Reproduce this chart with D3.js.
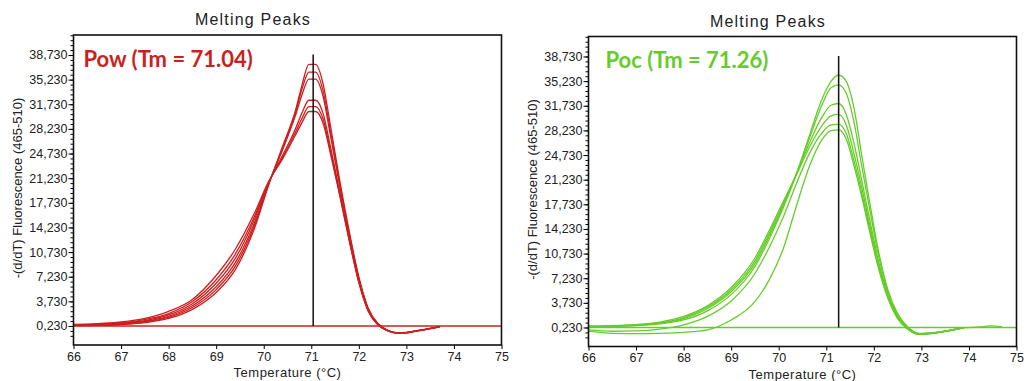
<!DOCTYPE html>
<html>
<head>
<meta charset="utf-8">
<script src="https://cdn.jsdelivr.net/npm/d3@7"></script>
<style>
  body { margin: 0; background: #fff; }
  svg text { font-family: "Liberation Sans", Arial, sans-serif; }
</style>
</head>
<body>
<div id="chart"></div>
<script>
const WIDTH = 1029;
const HEIGHT = 381;

// axis ticks
const xTicks = [66, 67, 68, 69, 70, 71, 72, 73, 74, 75];
const yTicks = [0.23, 3.73, 7.23, 10.73, 14.23, 17.73, 21.23, 24.73, 28.23, 31.73, 35.23, 38.73];

// Pow runs
const powTemps = [66.0, 66.5, 67.0, 67.5, 68.0, 68.5, 69.0, 69.4, 69.8, 70.1, 70.4, 70.67, 70.81, 70.95, 71.09,
  71.25, 71.4, 71.6, 71.8, 72.0, 72.2, 72.4, 72.6, 72.8, 73.0, 73.3, 73.7];
const pow1 = [0.3, 0.32, 0.42, 0.7, 1.3, 2.6, 5.0, 8.2, 14.0, 20.2, 25.8, 30.9, 34.6, 37.4, 37.4,
  34.6, 28.8, 20.8, 13.6, 7.2, 2.7, 0.6, -0.35, -0.72, -0.68, -0.35, 0.15];
const pow2 = [0.32, 0.36, 0.48, 0.8, 1.45, 2.85, 5.4, 8.7, 14.4, 20.3, 25.6, 30.6, 34.0, 36.3, 36.3,
  33.6, 28.0, 20.4, 13.3, 7.0, 2.6, 0.55, -0.38, -0.74, -0.7, -0.36, 0.15];
const pow3 = [0.35, 0.4, 0.55, 0.9, 1.6, 3.1, 5.8, 9.2, 14.8, 20.4, 25.3, 30.2, 33.2, 35.3, 35.3,
  32.8, 27.4, 20.0, 13.0, 6.8, 2.5, 0.5, -0.4, -0.75, -0.7, -0.37, 0.14];
const pow4 = [0.38, 0.45, 0.62, 1.0, 1.8, 3.4, 6.3, 9.8, 15.3, 20.5, 24.5, 28.3, 30.6, 32.3, 32.3,
  30.4, 25.8, 19.2, 12.6, 6.6, 2.4, 0.45, -0.42, -0.76, -0.72, -0.38, 0.13];
const pow5 = [0.4, 0.5, 0.7, 1.15, 2.0, 3.7, 6.8, 10.4, 15.7, 20.6, 24.2, 27.8, 29.8, 31.4, 31.4,
  29.6, 25.2, 18.9, 12.4, 6.5, 2.35, 0.42, -0.43, -0.77, -0.72, -0.38, 0.13];
const pow6 = [0.45, 0.55, 0.8, 1.3, 2.3, 4.0, 7.4, 11.1, 16.2, 20.7, 24.0, 27.4, 29.2, 30.7, 30.7,
  29.0, 24.8, 18.7, 12.3, 6.4, 2.3, 0.4, -0.44, -0.78, -0.73, -0.39, 0.12];

// Poc runs
const pocTemps = [66.0, 66.5, 67.0, 67.5, 68.0, 68.5, 69.0, 69.5, 69.8, 70.1, 70.35, 70.65, 70.9, 71.1, 71.26,
  71.42, 71.58, 71.75, 71.9, 72.1, 72.3, 72.5, 72.7, 72.95, 73.3, 73.9, 74.2, 74.45, 74.7];
const poc1 = [0.3, 0.35, 0.5, 0.75, 1.3, 2.6, 4.9, 8.9, 12.8, 17.3, 21.6, 27.6, 32.5, 35.2, 36.1,
  35.2, 31.5, 24.5, 18.5, 11.0, 5.5, 2.2, 0.4, -0.6, -0.45, 0.2, null, null, null];
const poc2 = [0.35, 0.4, 0.55, 0.85, 1.5, 2.9, 5.3, 9.3, 13.2, 17.6, 21.7, 27.2, 31.7, 34.3, 34.7,
  33.5, 29.5, 23.0, 17.5, 10.4, 5.2, 2.0, 0.3, -0.65, -0.5, 0.2, null, null, null];
const poc3 = [0.4, 0.45, 0.6, 0.9, 1.6, 3.1, 5.6, 9.7, 13.6, 17.9, 21.7, 26.5, 30.0, 31.8, 32.05,
  30.5, 26.5, 21.0, 16.0, 9.6, 4.8, 1.8, 0.2, -0.7, -0.5, 0.2, null, null, null];
const poc4 = [0.45, 0.5, 0.65, 1.0, 1.8, 3.3, 5.9, 10.1, 14.0, 18.2, 21.6, 25.9, 28.8, 30.3, 30.5,
  29.0, 25.0, 20.0, 15.2, 9.2, 4.6, 1.7, 0.15, -0.72, -0.52, 0.2, 0.3, 0.45, 0.3];
const poc5 = [-0.1, -0.3, -0.25, 0.0, 0.6, 1.8, 4.0, 7.9, 11.6, 16.0, 20.3, 25.0, 27.8, 29.0, 29.1,
  27.8, 24.0, 19.2, 14.6, 8.8, 4.4, 1.6, 0.1, -0.73, -0.55, 0.2, null, null, null];
const poc6 = [-0.3, -0.6, -0.65, -0.6, -0.45, -0.1, 1.3, 3.9, 7.0, 11.5, 17.0, 23.2, 26.8, 28.2, 28.3,
  27.0, 23.3, 18.7, 14.2, 8.6, 4.3, 1.5, 0.05, -0.75, -0.55, 0.2, null, null, null];

const BASELINE = 0.23;
const Y_MIN = -2.47;
const Y_MAX = 41.57;

const panels = [
  { label: 'Pow (Tm = 71.04)', tm: 71.04, color: '#cc1f1f', temps: powTemps,
    runs: [pow1, pow2, pow3, pow4, pow5, pow6],
    left: 73.5, right: 501.5, top: 35, bottom: 345, labelDx: 10 },
  { label: 'Poc (Tm = 71.26)', tm: 71.26, color: '#66cc29', temps: pocTemps,
    runs: [poc1, poc2, poc3, poc4, poc5, poc6],
    left: 588.5, right: 1016.5, top: 36.5, bottom: 346.5, labelDx: 17 }
];

const svg = d3.select('#chart')
  .append('svg')
  .attr('width', WIDTH)
  .attr('height', HEIGHT);

const fmtY = (d) => d3.format('.3f')(d).replace('.', ',');

panels.forEach((p) => {
  const xScale = d3.scaleLinear().domain([66, 75]).range([p.left, p.right]);
  const yScale = d3.scaleLinear().domain([Y_MIN, Y_MAX]).range([p.bottom, p.top]);
  const g = svg.append('g');

  // title (centred over the whole panel, not the plot box)
  g.append('text')
    .attr('x', p.left - 34.5 + (p.right - p.left) / 2)
    .attr('y', p.top - 10)
    .attr('text-anchor', 'middle')
    .style('font-size', '16px')
    .style('letter-spacing', '1.2px')
    .style('fill', '#222')
    .text('Melting Peaks');

  // y axis: minor + major ticks
  const minor = d3.range(BASELINE - 2 * 0.7, Y_MAX, 0.7).filter((v) => v > Y_MIN);
  g.append('g')
    .attr('transform', `translate(${p.left},0)`)
    .call(d3.axisLeft(yScale).tickValues(minor).tickFormat('').tickSize(3).tickSizeOuter(0))
    .call((a) => a.select('.domain').remove());
  g.append('g')
    .attr('transform', `translate(${p.left},0)`)
    .call(d3.axisLeft(yScale).tickValues(yTicks).tickFormat(fmtY).tickSize(5).tickSizeOuter(0))
    .call((a) => a.select('.domain').remove())
    .call((a) => a.selectAll('text').style('font-size', '12.5px').style('fill', '#222').attr('x', -6));

  // x axis
  g.append('g')
    .attr('transform', `translate(0,${p.bottom})`)
    .call(d3.axisBottom(xScale).tickValues(xTicks).tickSize(4).tickSizeOuter(0))
    .call((a) => a.select('.domain').remove())
    .call((a) => a.selectAll('text').style('font-size', '12.5px').style('fill', '#222').attr('y', 7));

  // axis labels
  g.append('text')
    .attr('x', (xScale(66) + xScale(75)) / 2)
    .attr('y', p.bottom + 32)
    .attr('text-anchor', 'middle')
    .style('font-size', '13px')
    .style('letter-spacing', '0.5px')
    .style('fill', '#222')
    .text('Temperature (°C)');

  g.append('text')
    .attr('transform', `translate(${p.left - 52},${(p.top + p.bottom) / 2 - 2}) rotate(-90)`)
    .attr('text-anchor', 'middle')
    .style('font-size', '13px')
    .style('fill', '#222')
    .text('-(d/dT) Fluorescence (465-510)');

  // baseline
  g.append('line')
    .attr('x1', xScale(66)).attr('x2', xScale(75))
    .attr('y1', yScale(BASELINE)).attr('y2', yScale(BASELINE))
    .attr('stroke', p.color)
    .attr('stroke-width', 1.5);

  // melting curves
  const line = d3.line()
    .defined((d) => d != null)
    .curve(d3.curveMonotoneX)
    .x((_d, i) => xScale(p.temps[i]))
    .y((d) => yScale(d));

  p.runs.forEach((run) => {
    g.append('path')
      .datum(run)
      .attr('fill', 'none')
      .attr('stroke', p.color)
      .attr('stroke-width', 1.3)
      .attr('d', line);
  });

  // Tm marker
  g.append('line')
    .attr('x1', xScale(p.tm)).attr('x2', xScale(p.tm))
    .attr('y1', yScale(BASELINE)).attr('y2', yScale(38.8))
    .attr('stroke', '#111')
    .attr('stroke-width', 1.5);

  // plot frame
  g.append('rect')
    .attr('x', p.left).attr('y', p.top)
    .attr('width', p.right - p.left).attr('height', p.bottom - p.top)
    .attr('fill', 'none')
    .attr('stroke', '#111')
    .attr('stroke-width', 1.6);

  // annotation
  g.append('text')
    .attr('x', p.left + p.labelDx)
    .attr('y', p.top + 31.5)
    .style('font-family', 'Lato, "Open Sans", sans-serif')
    .style('font-weight', 'bold')
    .style('font-size', '22px')
    .style('fill', p.color)
    .text(p.label);
});
</script>
</body>
</html>
